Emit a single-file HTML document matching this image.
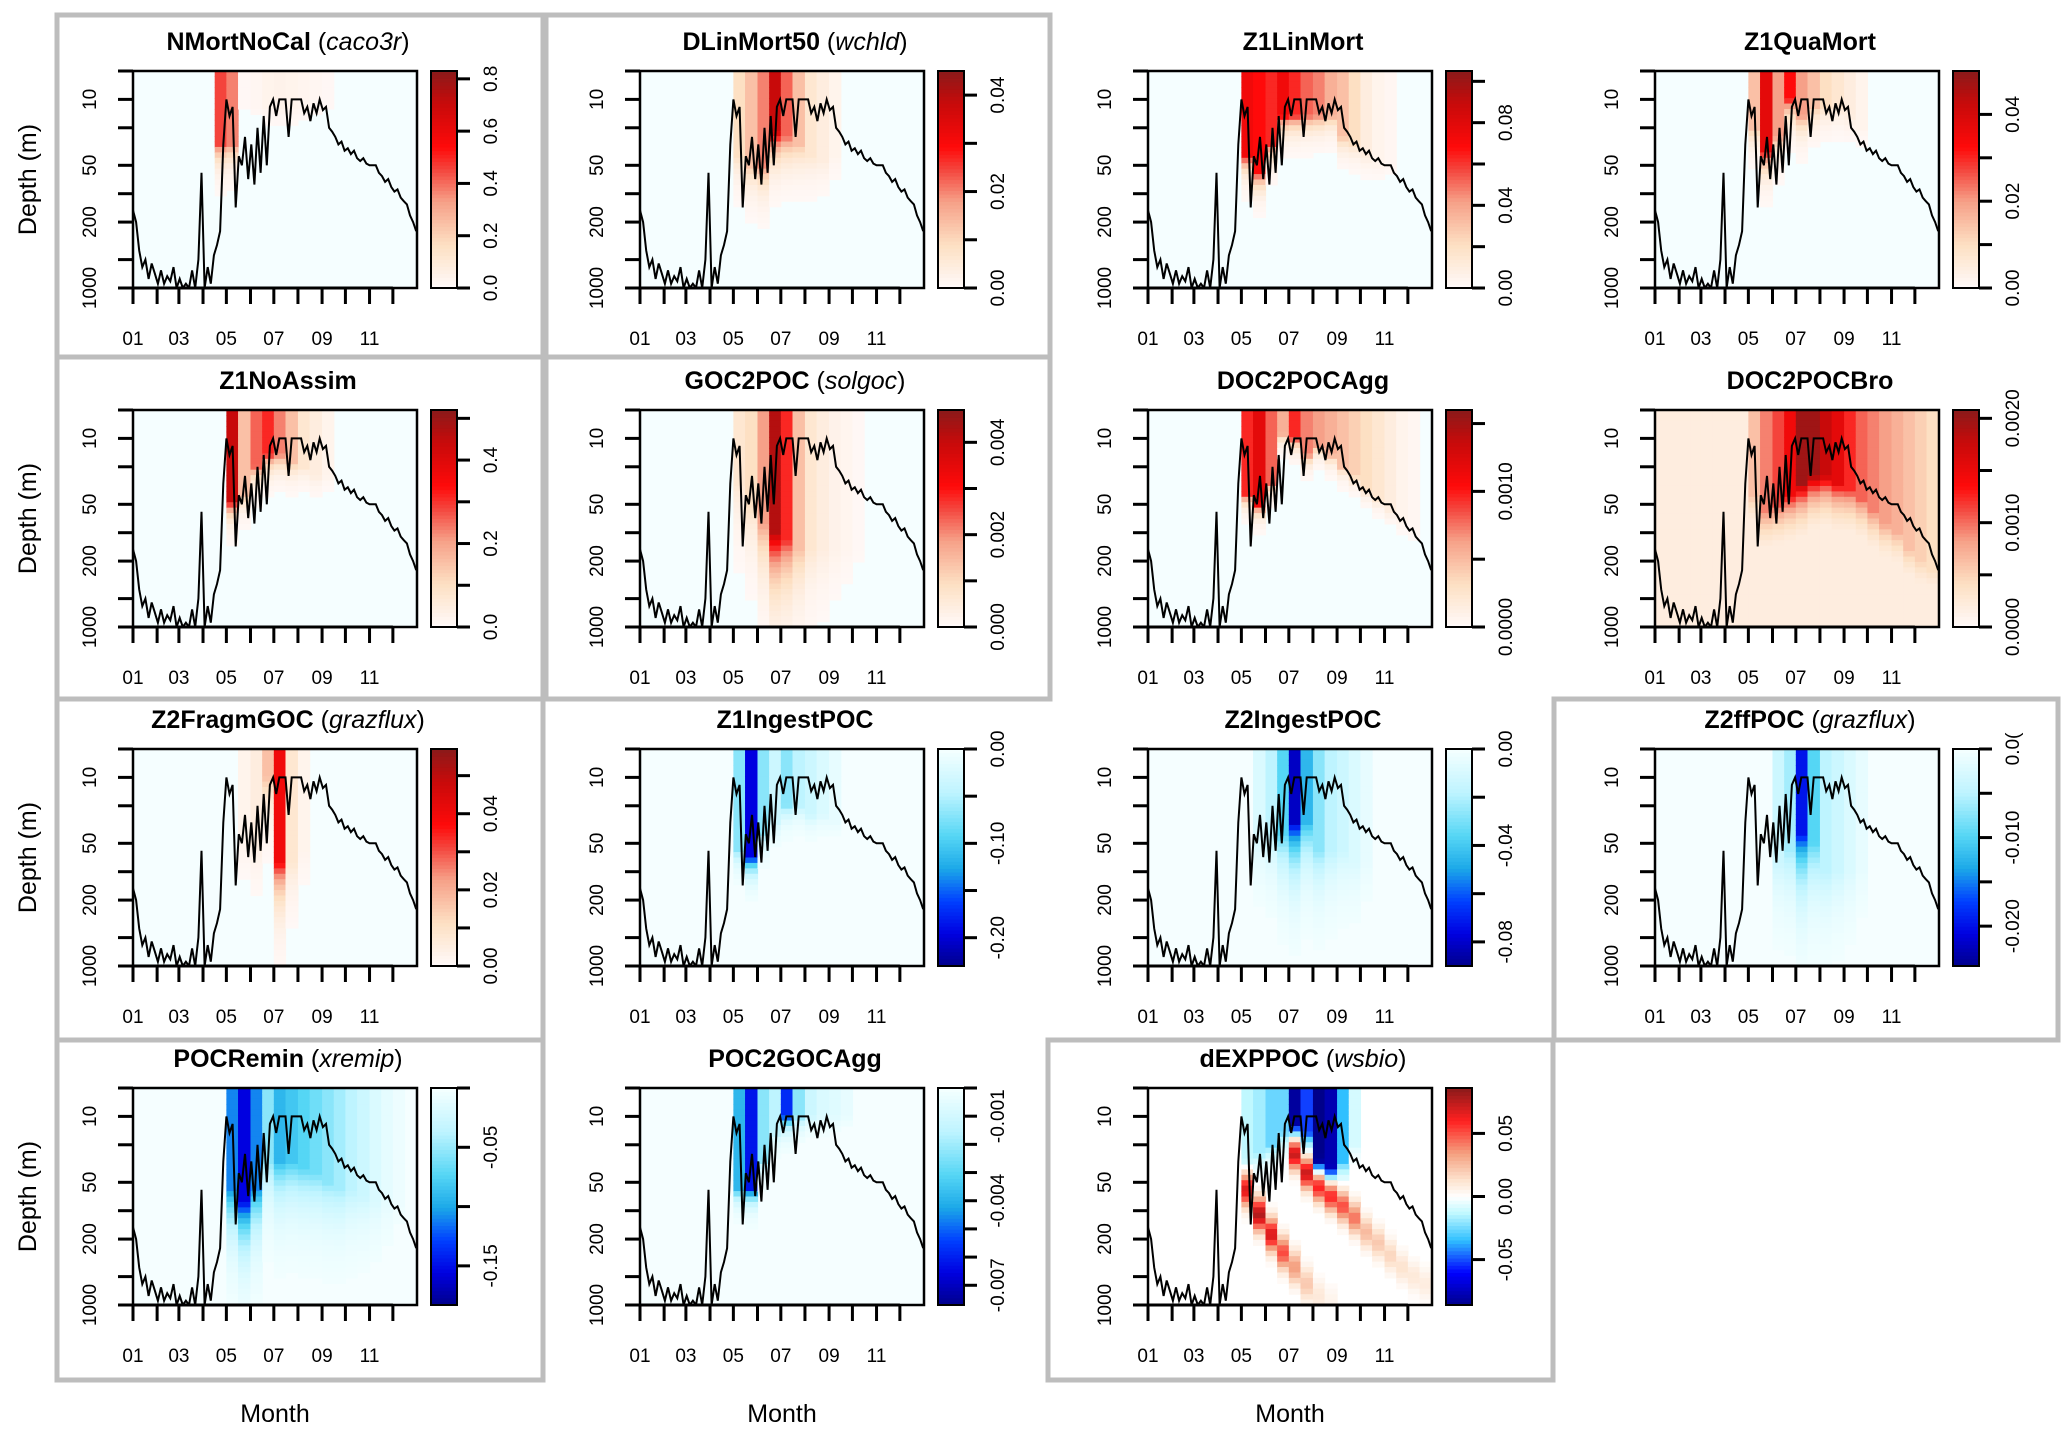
<!DOCTYPE html>
<html><head><meta charset="utf-8"><title>Depth-time panels</title>
<style>
html,body{margin:0;padding:0;background:#fff;}
svg{display:block;font-family:"Liberation Sans",Arial,sans-serif;}
</style></head>
<body>
<svg id="chart" width="2067" height="1436" viewBox="0 0 2067 1436" xmlns="http://www.w3.org/2000/svg">
<rect x="0" y="0" width="2067" height="1436" fill="#ffffff"/>
</svg>
<script>
// ---------- data ----------
const monthLabels = ['01','','03','','05','','07','','09','','11',''];
const monthStartDays = [0,31,59,90,120,151,181,212,243,273,304,334];
const colEdgeDays = [0,15,31,46,59,74,90,105,120,135,151,166,181,196,212,227,243,258,273,288,304,319,334,349,365];
const depthTicks = [5,10,20,50,100,200,500,1000];
const depthTickLabels = ['','10','','50','','200','','1000'];

const mldDay = [1,5,9,13,17,21,25,29,33,37,41,45,49,53,57,61,65,69,73,77,81,85,89,93,97,101,105,109,113,117,121,125,129,133,137,141,145,149,153,157,161,165,169,173,177,181,185,189,193,197,201,205,209,213,217,221,225,229,233,237,241,245,249,253,257,261,265,269,273,277,281,285,289,293,297,301,305,309,313,317,321,325,329,333,337,341,345,349,353,357,361,365];
const mldDepth = [150,200,400,600,500,800,550,700,900,650,900,750,850,600,1000,800,1000,900,1000,650,1000,500,60,1000,600,900,450,350,250,30,10,15,12,140,40,50,25,70,30,80,20,60,15,50,12,10,15,10,10,10,25,10,10,10,10,14,12,17,11,14,10,13,12,20,22,25,30,28,35,33,38,35,42,45,42,48,50,50,50,60,65,75,70,85,95,90,110,120,130,170,200,250];

const p1Amp = [0,0,0,0,0,0,0,0.55,0.45,0.02,0.03,0.05,0.06,0.05,0.04,0.03,0.02,0,0,0,0,0,0,0];
const p1Reach = [10,10,10,10,10,10,10,30,30,12,12,12,12,12,12,12,12,10,10,10,10,10,10,10];
const p2Amp = [0,0,0,0,0,0,0,0,0.2,0.3,0.45,0.85,0.5,0.3,0.15,0.1,0.05,0,0,0,0,0,0,0];
const p2Reach = [10,10,10,10,10,10,10,10,40,50,50,22,25,30,40,45,40,10,10,10,10,10,10,10];
const p3Amp = [0,0,0,0,0,0,0,0,0.7,0.65,0.6,0.7,0.6,0.5,0.45,0.35,0.3,0.2,0.1,0.05,0.03,0,0,0];
const p3Reach = [10,10,10,10,10,10,10,10,40,60,30,15,15,15,15,15,25,30,40,50,50,10,10,10];
const p4Amp = [0,0,0,0,0,0,0,0,0.3,0.75,0.4,0.65,0.4,0.3,0.2,0.15,0.1,0.05,0,0,0,0,0,0];
const p4Reach = [10,10,10,10,10,10,10,10,20,35,25,10,15,12,12,12,15,20,10,10,10,10,10,10];
const p5Amp = [0,0,0,0,0,0,0,0,0.85,0.3,0.5,0.6,0.45,0.3,0.15,0.1,0.05,0,0,0,0,0,0,0];
const p5Reach = [10,10,10,10,10,10,10,10,45,40,20,15,15,18,20,25,25,10,10,10,10,10,10,10];
const p6Amp = [0,0,0,0,0,0,0,0,0.15,0.2,0.4,0.9,0.6,0.3,0.15,0.1,0.06,0.04,0.02,0,0,0,0,0];
const p6Reach = [10,10,10,10,10,10,10,10,30,50,80,100,120,150,150,150,150,150,150,10,10,10,10,10];
const p7Amp = [0,0,0,0,0,0,0,0,0.6,0.75,0.5,0.35,0.6,0.45,0.4,0.35,0.3,0.25,0.2,0.15,0.1,0.05,0.03,0];
const p7Reach = [10,10,10,10,10,10,10,10,40,50,30,9,10,15,12,15,20,25,35,45,60,80,100,10];
const p8Amp = [0,0,0,0,0,0,0,0,0.3,0.45,0.55,0.7,0.95,0.95,0.85,0.75,0.6,0.5,0.45,0.4,0.35,0.3,0.25,0.2];
const p8Reach = [10,10,10,10,10,10,10,10,40,60,50,40,30,25,25,30,35,45,60,80,100,150,200,250];
const p9Amp = [0,0,0,0,0,0,0,0,0,0.05,0.1,0.3,0.7,0.15,0.05,0,0,0,0,0,0,0,0,0];
const p9Reach = [10,10,10,10,10,10,10,10,10,50,50,10,80,80,60,10,10,10,10,10,10,10,10,10];
const p10Amp = [0,0,0,0,0,0,0,0,0.3,0.85,0.3,0.15,0.3,0.2,0.15,0.1,0.05,0,0,0,0,0,0,0];
const p10Reach = [10,10,10,10,10,10,10,10,60,70,40,30,20,20,25,25,30,10,10,10,10,10,10,10];
const p11Amp = [0,0,0,0,0,0,0,0,0,0.1,0.2,0.4,0.9,0.5,0.3,0.2,0.15,0.1,0.05,0,0,0,0,0];
const p11Reach = [10,10,10,10,10,10,10,10,10,50,40,40,30,30,60,60,60,80,80,10,10,10,10,10];
const p12Amp = [0,0,0,0,0,0,0,0,0,0,0.15,0.25,0.8,0.4,0.2,0.15,0.1,0.05,0,0,0,0,0,0];
const p12Reach = [10,10,10,10,10,10,10,10,10,10,80,60,40,50,100,100,100,100,10,10,10,10,10,10];
const p13Amp = [0,0,0,0,0,0,0,0,0.6,0.85,0.6,0.3,0.5,0.45,0.4,0.35,0.3,0.25,0.2,0.15,0.1,0.06,0.03,0];
const p13Reach = [10,10,10,10,10,10,10,10,60,80,60,30,30,30,35,40,50,60,60,70,80,80,80,10];
const p14Amp = [0,0,0,0,0,0,0,0,0.5,0.8,0.3,0.2,0.75,0.3,0.15,0.1,0.08,0.05,0,0,0,0,0,0];
const p14Reach = [10,10,10,10,10,10,10,10,60,60,30,15,10,10,10,10,10,10,10,10,10,10,10,10];
// dEXPPOC (diverging)
const p15BlueAmp = [0,0,0,0,0,0,0,0,0.15,0.2,0.3,0.3,0.95,0.6,1.0,0.9,0.4,0.1,0,0,0,0,0,0];
const p15BlueReach = [10,10,10,10,10,10,10,10,30,25,20,15,12,15,30,35,30,20,10,10,10,10,10,10];
const p15RedAmp = [0,0,0,0,0,0,0,0,0.8,0.9,0.8,0.6,0.4,0.25,0.12,0.06,0,0,0,0,0,0,0,0];
const p15RedDepth = [50,50,50,50,50,50,50,50,60,110,180,280,400,600,800,900,900,900,900,900,900,900,900,900];
const p15Red2Amp = [0,0,0,0,0,0,0,0,0,0,0,0,0.9,0.85,0.8,0.75,0.6,0.5,0.3,0.25,0.2,0.15,0.12,0.1];
const p15Red2Depth = [20,20,20,20,20,20,20,20,20,20,20,20,25,40,55,70,90,120,170,220,300,400,500,600];

const p1Ticks=[0,0.2,0.4,0.6,0.8], p1TickLabels=['0.0','0.2','0.4','0.6','0.8'];
const p2Ticks=[0,0.01,0.02,0.03,0.04], p2TickLabels=['0.00','','0.02','','0.04'];
const p3Ticks=[0,0.02,0.04,0.06,0.08,0.10], p3TickLabels=['0.00','','0.04','','0.08',''];
const p4Ticks=[0,0.01,0.02,0.03,0.04], p4TickLabels=['0.00','','0.02','','0.04'];
const p5Ticks=[0,0.1,0.2,0.3,0.4,0.5], p5TickLabels=['0.0','','0.2','','0.4',''];
const p6Ticks=[0,0.001,0.002,0.003,0.004], p6TickLabels=['0.000','','0.002','','0.004'];
const p7Ticks=[0,0.0005,0.001,0.0015], p7TickLabels=['0.0000','','0.0010',''];
const p8Ticks=[0,0.0005,0.001,0.0015,0.002], p8TickLabels=['0.0000','','0.0010','','0.0020'];
const p9Ticks=[0,0.01,0.02,0.03,0.04,0.05], p9TickLabels=['0.00','','0.02','','0.04',''];
const p10Ticks=[0,-0.05,-0.1,-0.15,-0.2], p10TickLabels=['0.00','','-0.10','','-0.20'];
const p11Ticks=[0,-0.02,-0.04,-0.06,-0.08], p11TickLabels=['0.00','','-0.04','','-0.08'];
const p12Ticks=[0,-0.005,-0.01,-0.015,-0.02], p12TickLabels=['0.0(','','-0.010','','-0.020'];
const p13Ticks=[0,-0.05,-0.1,-0.15], p13TickLabels=['','-0.05','','-0.15'];
const p14Ticks=[0,-0.001,-0.002,-0.003,-0.004,-0.005,-0.006,-0.007], p14TickLabels=['','-0.001','','','-0.004','','','-0.007'];
const p15Ticks=[-0.05,0,0.05], p15TickLabels=['-0.05','0.00','0.05'];

// ---------- layout ----------
const colL=[133,640,1148,1655], rowT=[71,410,749,1088], PW=284, PH=217;
const panels=[
 {r:0,c:0,name:'NMortNoCal',it:'caco3r',cm:'red',amp:p1Amp,reach:p1Reach,k:0.15,vmin:0,vmax:0.83,ticks:p1Ticks,labels:p1TickLabels,bg:'#f5feff'},
 {r:0,c:1,name:'DLinMort50',it:'wchld',cm:'red',amp:p2Amp,reach:p2Reach,k:0.2,vmin:0,vmax:0.045,ticks:p2Ticks,labels:p2TickLabels,bg:'#f5feff'},
 {r:0,c:2,name:'Z1LinMort',it:'',cm:'red',amp:p3Amp,reach:p3Reach,k:0.12,vmin:0,vmax:0.105,ticks:p3Ticks,labels:p3TickLabels,bg:'#f5feff'},
 {r:0,c:3,name:'Z1QuaMort',it:'',cm:'red',amp:p4Amp,reach:p4Reach,k:0.15,vmin:0,vmax:0.05,ticks:p4Ticks,labels:p4TickLabels,bg:'#f5feff'},
 {r:1,c:0,name:'Z1NoAssim',it:'',cm:'red',amp:p5Amp,reach:p5Reach,k:0.12,vmin:0,vmax:0.52,ticks:p5Ticks,labels:p5TickLabels,bg:'#f5feff'},
 {r:1,c:1,name:'GOC2POC',it:'solgoc',cm:'red',amp:p6Amp,reach:p6Reach,k:0.4,vmin:0,vmax:0.0047,ticks:p6Ticks,labels:p6TickLabels,bg:'#f5feff'},
 {r:1,c:2,name:'DOC2POCAgg',it:'',cm:'red',amp:p7Amp,reach:p7Reach,k:0.08,vmin:0,vmax:0.0016,ticks:p7Ticks,labels:p7TickLabels,bg:'#f5feff'},
 {r:1,c:3,name:'DOC2POCBro',it:'',cm:'red',amp:p8Amp,reach:p8Reach,k:0.25,vmin:0,vmax:0.00208,ticks:p8Ticks,labels:p8TickLabels,bg:'#fdeee0',floor:0.1},
 {r:2,c:0,name:'Z2FragmGOC',it:'grazflux',cm:'red',amp:p9Amp,reach:p9Reach,k:0.3,vmin:0,vmax:0.057,ticks:p9Ticks,labels:p9TickLabels,bg:'#f5feff'},
 {r:2,c:1,name:'Z1IngestPOC',it:'',cm:'blue',amp:p10Amp,reach:p10Reach,k:0.12,vmin:-0.23,vmax:0,ticks:p10Ticks,labels:p10TickLabels,bg:'#f5feff'},
 {r:2,c:2,name:'Z2IngestPOC',it:'',cm:'blue',amp:p11Amp,reach:p11Reach,k:0.35,vmin:-0.09,vmax:0,ticks:p11Ticks,labels:p11TickLabels,bg:'#f5feff'},
 {r:2,c:3,name:'Z2ffPOC',it:'grazflux',cm:'blue',amp:p12Amp,reach:p12Reach,k:0.4,vmin:-0.0245,vmax:0,ticks:p12Ticks,labels:p12TickLabels,bg:'#f5feff'},
 {r:3,c:0,name:'POCRemin',it:'xremip',cm:'blue',amp:p13Amp,reach:p13Reach,k:0.35,vmin:-0.183,vmax:0,ticks:p13Ticks,labels:p13TickLabels,bg:'#f5feff'},
 {r:3,c:1,name:'POC2GOCAgg',it:'',cm:'blue',amp:p14Amp,reach:p14Reach,k:0.1,vmin:-0.0077,vmax:0,ticks:p14Ticks,labels:p14TickLabels,bg:'#f5feff'},
 {r:3,c:2,name:'dEXPPOC',it:'wsbio',cm:'div',vmin:-0.086,vmax:0.086,ticks:p15Ticks,labels:p15TickLabels,bg:'#ffffff'}
];
const boxX=[[57,543],[546,1050],[1048,1553],[1554,2058]];
const boxY=[[15,357],[357,699],[699,1040],[1040,1380]];
const boxed=[[0,0],[0,1],[1,0],[1,1],[2,0],[2,3],[3,0],[3,2]];

const redStops=[[0,[255,250,250]],[0.2,[253,224,195]],[0.4,[246,160,136]],[0.55,[244,68,60]],[0.65,[255,10,10]],[0.85,[200,10,10]],[1,[139,26,26]]];
const blueStops=[[0,[245,255,255]],[0.2,[190,244,255]],[0.4,[85,214,245]],[0.55,[28,168,232]],[0.7,[0,64,255]],[0.85,[0,0,224]],[1,[0,0,139]]];
const divStops=[[-1,[0,0,139]],[-0.7,[0,0,255]],[-0.4,[48,192,255]],[-0.15,[192,248,255]],[0,[255,255,255]],[0.15,[253,228,208]],[0.4,[244,160,128]],[0.7,[255,32,32]],[1,[139,26,26]]];

// ---------- helpers ----------
const NS='http://www.w3.org/2000/svg';
const svg=document.getElementById('chart');
function mk(tag,attrs,parent){const e=document.createElementNS(NS,tag);for(const k in attrs)e.setAttribute(k,attrs[k]);(parent||svg).appendChild(e);return e;}
function lerpCol(stops,t){
  if(t<=stops[0][0])return stops[0][1];
  for(let i=1;i<stops.length;i++){if(t<=stops[i][0]){const a=stops[i-1],b=stops[i];const f=(t-a[0])/(b[0]-a[0]);return [0,1,2].map(j=>Math.round(a[1][j]+(b[1][j]-a[1][j])*f));}}
  return stops[stops.length-1][1];
}
function rgb(c){return 'rgb('+c[0]+','+c[1]+','+c[2]+')';}
const LOG5=Math.log10(5), LOGSPAN=Math.log10(200);
function yScale(T,d){d=Math.max(5,Math.min(1000,d));return T+(Math.log10(d)-LOG5)/LOGSPAN*PH;}
function xScale(L,day){return L+day/365*PW;}
function profile(d,reach,k){return d<=reach?1:Math.exp(-(Math.log10(d)-Math.log10(reach))/k);}

// ---------- boxes ----------
boxed.forEach(([r,c])=>{
  const b=mk('rect',{x:boxX[c][0],y:boxY[r][0],width:boxX[c][1]-boxX[c][0],height:boxY[r][1]-boxY[r][0],fill:'none',stroke:'#bdbdbd','stroke-width':5});
  
  
});

const NROWS=40;
panels.forEach((p,pi)=>{
  const L=colL[p.c], T=rowT[p.r];
  const g=mk('g',{});
  
  
  const clipId='clip'+pi;
  const cp=mk('clipPath',{id:clipId},g);
  mk('rect',{x:L,y:T,width:PW,height:PH},cp);
  const t=mk('text',{x:L+155,y:T-21,'text-anchor':'middle','font-size':25},g);
  
  
  const tb=mk('tspan',{'font-weight':'bold'},t); tb.textContent=p.name;
  if(p.it){const a=mk('tspan',{},t);a.textContent=' (';const b=mk('tspan',{'font-style':'italic'},t);b.textContent=p.it;const c=mk('tspan',{},t);c.textContent=')';}
  const bg=mk('rect',{x:L,y:T,width:PW,height:PH,fill:p.bg},g);
  
  
  const hm=mk('g',{'clip-path':'url(#'+clipId+')'},g);
  
  
  for(let i=0;i<24;i++){
    const x0=xScale(L,colEdgeDays[i]), x1=xScale(L,colEdgeDays[i+1]);
    for(let j=0;j<NROWS;j++){
      const lo=LOG5+LOGSPAN*j/NROWS, hi=LOG5+LOGSPAN*(j+1)/NROWS;
      const d=Math.pow(10,(lo+hi)/2);
      let col=null;
      if(p.cm==='div'){
        let v=-p15BlueAmp[i]*profile(d,p15BlueReach[i],0.12);
        v+=p15RedAmp[i]*Math.exp(-Math.pow((Math.log10(d)-Math.log10(p15RedDepth[i]))/0.17,2));
        v+=p15Red2Amp[i]*Math.exp(-Math.pow((Math.log10(d)-Math.log10(p15Red2Depth[i]))/0.16,2));
        v=Math.max(-1,Math.min(1,v));
        if(Math.abs(v)>0.015)col=lerpCol(divStops,v);
      }else{
        let v=p.amp[i]*profile(d,p.reach[i],p.k);
        if(p.floor)v=Math.max(p.floor,v);
        if(v>0.015)col=lerpCol(p.cm==='red'?redStops:blueStops,v);
      }
      if(!col)continue;
      const y0=T+PH*j/NROWS, y1=T+PH*(j+1)/NROWS;
      const r=mk('rect',{x:x0.toFixed(2),y:y0.toFixed(2),width:(x1-x0+0.6).toFixed(2),height:(y1-y0+0.6).toFixed(2),fill:rgb(col)},hm);
      
      
    }
  }
  let dpath='';
  mldDay.forEach((day,k)=>{dpath+=(k?'L':'M')+xScale(L,day-1).toFixed(1)+','+yScale(T,mldDepth[k]).toFixed(1);});
  const ml=mk('path',{d:dpath,fill:'none',stroke:'#000','stroke-width':2,'clip-path':'url(#'+clipId+')'},g);
  
  
  const fr=mk('rect',{x:L,y:T,width:PW,height:PH,fill:'none',stroke:'#000','stroke-width':2.5},g);
  
  
  depthTicks.forEach((dv,k)=>{
    const y=yScale(T,dv);
    const tk=mk('line',{x1:L-15,x2:L,y1:y,y2:y,stroke:'#000','stroke-width':3},g);
    
    
    if(depthTickLabels[k]){
      const tl=mk('text',{transform:'translate('+(L-37)+','+y+') rotate(-90)','text-anchor':'middle','font-size':19},g);
      
      
      tl.textContent=depthTickLabels[k];
    }
  });
  const xl=mk('line',{x1:L,x2:xScale(L,monthStartDays[11]),y1:T+PH,y2:T+PH,stroke:'#000','stroke-width':3},g);
  
  
  monthStartDays.forEach((md,k)=>{
    const x=xScale(L,md);
    const tk=mk('line',{x1:x,x2:x,y1:T+PH,y2:T+PH+16,stroke:'#000','stroke-width':3},g);
    
    
    if(monthLabels[k]){
      const tl=mk('text',{x:x,y:T+PH+57,'text-anchor':'middle','font-size':19},g);
      
      
      tl.textContent=monthLabels[k];
    }
  });
  const cbL=L+298, cbW=26, NS_=60;
  const cb=mk('g',{},g);
  
  
  for(let s=0;s<NS_;s++){
    const f=(s+0.5)/NS_;
    let col;
    if(p.cm==='red')col=lerpCol(redStops,f);
    else if(p.cm==='blue')col=lerpCol(blueStops,1-f);
    else col=lerpCol(divStops,f*2-1);
    const y1=T+PH-(s+1)*PH/NS_;
    mk('rect',{x:cbL,y:y1.toFixed(2),width:cbW,height:(PH/NS_+0.6).toFixed(2),fill:rgb(col)},cb);
  }
  const cbf=mk('rect',{x:cbL,y:T,width:cbW,height:PH,fill:'none',stroke:'#000','stroke-width':2},cb);
  
  
  p.ticks.forEach((v,k)=>{
    const y=T+PH-(v-p.vmin)/(p.vmax-p.vmin)*PH;
    const tk=mk('line',{x1:cbL+cbW,x2:cbL+cbW+13,y1:y,y2:y,stroke:'#000','stroke-width':3},cb);
    
    
    if(p.labels[k]){
      const tl=mk('text',{transform:'translate('+(cbL+cbW+40)+','+y+') rotate(-90)','text-anchor':'middle','font-size':19},cb);
      
      
      tl.textContent=p.labels[k];
    }
  });
});

rowT.forEach(T=>{
  const t=mk('text',{transform:'translate(36,'+(T+PH/2)+') rotate(-90)','text-anchor':'middle','font-size':25});
  
  
  t.textContent='Depth (m)';
});
[0,1,2].forEach(c=>{
  const t=mk('text',{x:colL[c]+PW/2,y:1422,'text-anchor':'middle','font-size':25});
  
  
  t.textContent='Month';
});
</script>
</body></html>
